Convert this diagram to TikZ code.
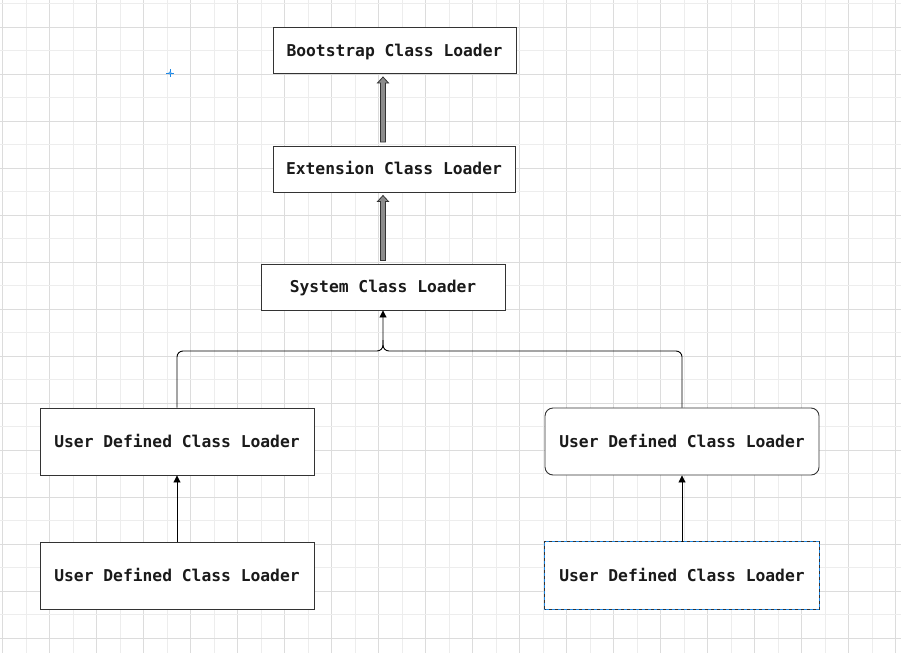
\documentclass[tikz,border=0pt]{standalone}
\usepackage{fontspec}
\setmonofont{DejaVu Sans Mono}
\usetikzlibrary{arrows.meta}
\definecolor{gridminor}{HTML}{EDEDED}
\definecolor{gridmajor}{HTML}{DCDCDC}
\definecolor{boxline}{HTML}{333333}
\definecolor{selblue}{HTML}{1E88E5}
\definecolor{arrowgray}{HTML}{8C8C8C}
\definecolor{txt}{HTML}{1A1A1A}
\tikzset{
  box/.style={draw=boxline, line width=0.9pt, fill=white, minimum height=46pt, font=\ttfamily\bfseries\fontsize{16.3}{18}\selectfont, text=txt, inner sep=0pt, text depth=0pt, text height=11pt},
  udbox/.style={box, minimum width=274pt, minimum height=67pt},
  conn/.style={draw=black, line width=0.9pt, -{Triangle[length=7pt,width=7pt]}},
  fat/.style={draw=boxline, line width=0.8pt, fill=arrowgray}
}
\begin{document}
\begin{tikzpicture}[x=1pt,y=-1pt]
\useasboundingbox (0,0) rectangle (901,653);
\fill[white] (0,0) rectangle (901,653);
% grid
\foreach \i in {0,...,38} {
  \pgfmathsetmacro{\xx}{2.7+23.5*\i}
  \pgfmathtruncatemacro{\pty}{mod(\i,2)}
  \ifnum\pty=0
    \draw[gridmajor, line width=0.8pt] (\xx,0) -- (\xx,653);
  \else
    \draw[gridminor, line width=0.8pt] (\xx,0) -- (\xx,653);
  \fi
}
\foreach \j in {0,...,28} {
  \pgfmathsetmacro{\yy}{3.8+23.5*\j}
  \pgfmathtruncatemacro{\pty}{mod(\j,2)}
  \ifnum\pty=1
    \draw[gridmajor, line width=0.8pt] (0,\yy) -- (901,\yy);
  \else
    \draw[gridminor, line width=0.8pt] (0,\yy) -- (901,\yy);
  \fi
}
% blue marker
\draw[selblue, line width=0.8pt] (166,73) -- (174,73) (170,69) -- (170,77);
\fill[white] (170,73) circle (1.2pt);
\draw[selblue, line width=0.6pt] (170,73) circle (1.2pt);

% nodes
\node[box, minimum width=243pt] (boot) at (394.5,50.5) {Bootstrap Class Loader};
\node[box, minimum width=242pt] (ext) at (394,169) {Extension Class Loader};
\node[box, minimum width=244pt] (sys) at (383,287) {System Class Loader};
\node[udbox] (u1) at (177,441.5) {User Defined Class Loader};
\node[udbox, rounded corners=8pt] (u2) at (682,441.5) {User Defined Class Loader};
\node[udbox, draw=none] (u4) at (682,575.5) {User Defined Class Loader};
\node[udbox] (u3) at (177,575.5) {User Defined Class Loader};
\draw[selblue, line width=0.9pt] (u4.south west) rectangle (u4.north east);
\draw[boxline, line width=0.9pt, dash pattern=on 3pt off 3pt] (u4.south west) rectangle (u4.north east);

% fat hollow arrows
\draw[fat] (380.5,142) -- (380.5,83) -- (377.5,83) -- (383,77) -- (388.5,83) -- (385.5,83) -- (385.5,142) -- cycle;
\draw[fat] (380.5,260.5) -- (380.5,201.5) -- (377.5,201.5) -- (383,195.5) -- (388.5,201.5) -- (385.5,201.5) -- (385.5,260.5) -- cycle;

% connectors
\coordinate (j) at (383,351);
\draw[conn, rounded corners=6pt] (u1.north) -- (177,351) -- (j) -- (sys.south);
\draw[line width=0.9pt, rounded corners=6pt] (u2.north) -- (682,351) -- (j) -- (383,340);
\draw[conn] (u3.north) -- (u1.south);
\draw[conn] (u4.north) -- (u2.south);
\end{tikzpicture}
\end{document}
